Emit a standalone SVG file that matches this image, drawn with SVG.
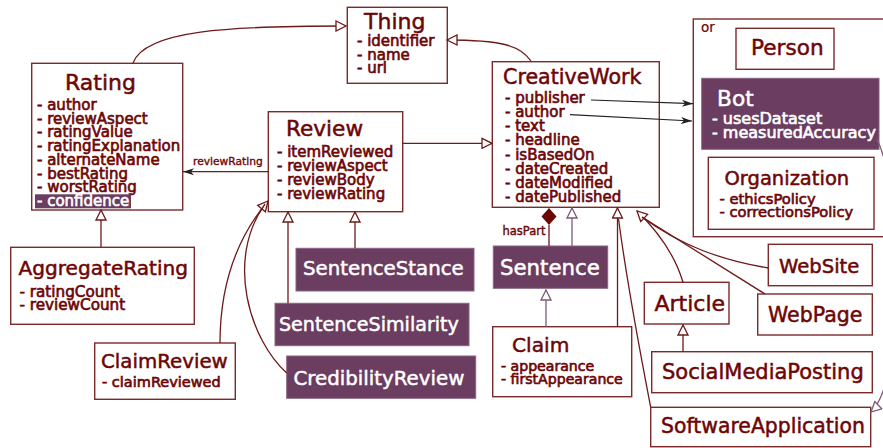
<svg xmlns="http://www.w3.org/2000/svg" width="883" height="448" viewBox="0 0 883 448">
<style>
text{font-family:"DejaVu Sans",Verdana,sans-serif;fill:#6e0505;stroke:#6e0505;stroke-width:0.45}
.w{fill:#fff;stroke:#fff}
.a{font-size:15px;stroke-width:0.65}
.t{stroke-width:0.5}
.box{fill:#fff;stroke:#7a2a2a;stroke-width:1.4}
.pbox{fill:#6b3d60;stroke:#8a6482;stroke-width:1}
.ln{fill:none;stroke:#6e1a1a;stroke-width:1.3}
.lp{fill:none;stroke:#7e5a78;stroke-width:1.3}
.lb{fill:none;stroke:#222;stroke-width:1.2}
</style>
<defs>
<marker id="tri" viewBox="0 0 12 12" refX="11" refY="6" markerWidth="12" markerHeight="12" markerUnits="userSpaceOnUse" orient="auto">
<path d="M1,1 L11,6 L1,11 Z" fill="#fff" stroke="#6e1a1a" stroke-width="1.3"/>
</marker>
<marker id="triP" viewBox="0 0 12 12" refX="11" refY="6" markerWidth="12" markerHeight="12" markerUnits="userSpaceOnUse" orient="auto">
<path d="M1,1 L11,6 L1,11 Z" fill="#fff" stroke="#7e5a78" stroke-width="1.3"/>
</marker>
<marker id="arr" viewBox="0 0 12 8" refX="11" refY="4" markerWidth="12" markerHeight="8" markerUnits="userSpaceOnUse" orient="auto">
<path d="M0,0.5 L11,4 L0,7.5 L3,4 Z" fill="#222"/>
</marker>
</defs>

<g id="Or">
<rect class="box" x="693.3" y="19" width="210" height="217.7"/>
<text x="701" y="31.5" style="font-size:13.5px;stroke-width:0.2">or</text>
</g>

<g id="Thing">
<rect class="box" x="347.3" y="7.3" width="100" height="76"/>
<text class="t" x="364" y="29" style="font-size:22px">Thing</text>
<text class="a" x="357" y="46">- identifier<tspan x="357" dy="13.5">- name</tspan><tspan x="357" dy="13.5">- url</tspan></text>
</g>

<g id="Rating">
<rect class="box" x="31.7" y="63.3" width="151" height="146.7"/>
<text class="t" x="65" y="90" style="font-size:22px">Rating</text>
<text class="a" x="37" y="110">- author<tspan x="37" dy="13.7">- reviewAspect</tspan><tspan x="37" dy="13.7">- ratingValue</tspan><tspan x="37" dy="13.7">- ratingExplanation</tspan><tspan x="37" dy="13.7">- alternateName</tspan><tspan x="37" dy="13.7">- bestRating</tspan><tspan x="37" dy="13.7">- worstRating</tspan></text>
<rect x="35" y="194.3" width="96" height="14" fill="#6b3d60"/>
<text class="a w" x="37" y="206">- confidence</text>
</g>

<g id="Review">
<rect class="box" x="268.3" y="111.7" width="134.4" height="100"/>
<text class="t" x="286" y="136" style="font-size:21.6px">Review</text>
<text class="a" x="277" y="157">- itemReviewed<tspan x="277" dy="13.9">- reviewAspect</tspan><tspan x="277" dy="13.9">- reviewBody</tspan><tspan x="277" dy="13.9">- reviewRating</tspan></text>
</g>

<g id="CreativeWork">
<rect class="box" x="492.3" y="61.7" width="167" height="145.6"/>
<text class="t" x="503" y="83.5" style="font-size:20.6px">CreativeWork</text>
<text class="a" x="505" y="103.3">- publisher<tspan x="505" dy="14.05">- author</tspan><tspan x="505" dy="14.05">- text</tspan><tspan x="505" dy="14.05">- headline</tspan><tspan x="505" dy="14.05">- isBasedOn</tspan><tspan x="505" dy="14.05">- dateCreated</tspan><tspan x="505" dy="14.05">- dateModified</tspan><tspan x="505" dy="14.05">- datePublished</tspan></text>
</g>

<g id="Person">
<rect class="box" x="736" y="28.3" width="98" height="41"/>
<text class="t" x="751" y="54.5" style="font-size:21.6px">Person</text>
</g>

<g id="Bot">
<rect class="pbox" x="701.7" y="78.3" width="177.3" height="71"/>
<text class="w t" x="717" y="105.5" style="font-size:21.7px">Bot</text>
<text class="w a" x="712" y="124" style="font-size:16px">- usesDataset<tspan x="712" dy="14.3">- measuredAccuracy</tspan></text>
</g>

<g id="Organization">
<rect class="box" x="708.3" y="157.3" width="165.7" height="72"/>
<text class="t" x="724.5" y="184.5" style="font-size:19.5px">Organization</text>
<text class="a" x="719.5" y="204" style="font-size:14.7px">- ethicsPolicy<tspan x="719.5" dy="13.3">- correctionsPolicy</tspan></text>
</g>

<g id="AggregateRating">
<rect class="box" x="10.7" y="247.3" width="183.6" height="77"/>
<text class="t" x="18.5" y="275" style="font-size:20.1px">AggregateRating</text>
<text class="a" x="19.5" y="296.5" style="font-size:15.2px">- ratingCount<tspan x="19.5" dy="13.5">- reviewCount</tspan></text>
</g>

<g id="ClaimReview">
<rect class="box" x="94.7" y="343" width="140.6" height="56.3"/>
<text class="t" x="101" y="367.5" style="font-size:19.8px">ClaimReview</text>
<text class="a" x="102" y="386.5" style="font-size:14.5px">- claimReviewed</text>
</g>

<g id="SentenceStance">
<rect class="pbox" x="296" y="248.3" width="178" height="42.7"/>
<text class="w t" x="303" y="275" style="font-size:19.8px">SentenceStance</text>
</g>

<g id="SentenceSimilarity">
<rect class="pbox" x="275" y="303.3" width="194" height="42.4"/>
<text class="w t" x="279" y="331" style="font-size:19.1px">SentenceSimilarity</text>
</g>

<g id="CredibilityReview">
<rect class="pbox" x="286.7" y="356" width="189" height="42.3"/>
<text class="w t" x="293.5" y="384.5" style="font-size:19.8px">CredibilityReview</text>
</g>

<g id="Sentence">
<rect class="pbox" x="493.3" y="246" width="114.4" height="42.3"/>
<text class="w t" x="500" y="275" style="font-size:21.3px">Sentence</text>
</g>

<g id="Claim">
<rect class="box" x="492.7" y="326.7" width="139" height="70"/>
<text class="t" x="512" y="351.7" style="font-size:20.2px">Claim</text>
<text class="a" x="501" y="370.7" style="font-size:14.1px">- appearance<tspan x="501" dy="13.3">- firstAppearance</tspan></text>
</g>

<g id="Article">
<rect class="box" x="644.3" y="282.3" width="84.7" height="41.7"/>
<text class="t" x="654.5" y="310.5" style="font-size:22px">Article</text>
</g>

<g id="WebSite">
<rect class="box" x="768.3" y="244.3" width="104" height="41.4"/>
<text class="t" x="779" y="273.3" style="font-size:19.6px">WebSite</text>
</g>

<g id="WebPage">
<rect class="box" x="757.7" y="294" width="114.6" height="41"/>
<text class="t" x="768" y="321.7" style="font-size:20.5px">WebPage</text>
</g>

<g id="SocialMediaPosting">
<rect class="box" x="651.7" y="351.7" width="220.6" height="41"/>
<text class="t" x="662" y="379.3" style="font-size:21px">SocialMediaPosting</text>
</g>

<g id="SoftwareApplication">
<rect class="box" x="650.7" y="407.3" width="220" height="39.4"/>
<text class="t" x="661" y="433.3" style="font-size:20.4px">SoftwareApplication</text>
</g>

<g id="connectors">
<path class="ln" d="M133,63 C145,30 230,26 346,26" marker-end="url(#tri)"/>
<path class="ln" d="M531,61 C520,45 500,40 447,40" marker-end="url(#tri)"/>
<path class="ln" d="M402.7,143.3 L492,143.3" marker-end="url(#tri)"/>
<path class="ln" d="M268.3,171.7 L183,171.7" marker-end="url(#arr)"/>
<text x="193" y="164.5" style="font-size:10.7px;stroke-width:0.35">reviewRating</text>
<path class="ln" d="M101,247 L101,210" marker-end="url(#tri)"/>
<path class="ln" d="M220,343 C220,290 235,240 268,201" marker-end="url(#tri)"/>
<path class="ln" d="M286.7,373 C250,340 225,260 265,204"/>
<path class="ln" d="M288,303.3 L288,212" marker-end="url(#tri)"/>
<path class="ln" d="M355,248.3 L355,212" marker-end="url(#tri)"/>
<polygon points="549,208 556.5,216.5 549,225 541.5,216.5" fill="#6e0505"/>
<path class="ln" d="M549,225 L549,246"/>
<text x="502.5" y="235" style="font-size:11.5px;stroke-width:0.4">hasPart</text>
<path class="lp" d="M572,246 L572,208" marker-end="url(#triP)"/>
<path class="lp" d="M546,326.7 L546,290" marker-end="url(#triP)"/>
<path class="ln" d="M617.5,326.7 L617.5,208" marker-end="url(#tri)"/>
<path class="ln" d="M650.7,407.3 Q628,290 618.5,219"/>
<path class="ln" d="M683,282.3 Q672,245 637,211" marker-end="url(#tri)"/>
<path class="ln" d="M768.3,268 C720,260 680,245 642,217"/>
<path class="ln" d="M765,294 L642,217"/>
<path class="ln" d="M683,351.7 L683,325" marker-end="url(#tri)"/>
<path class="lp" d="M877,139 C905,200 905,380 871,412" marker-end="url(#triP)"/>
<path class="lb" d="M591,100 L693,103.7" marker-end="url(#arr)"/>
<path class="lb" d="M570,114.7 L692,121" marker-end="url(#arr)"/>
</g>
</svg>
